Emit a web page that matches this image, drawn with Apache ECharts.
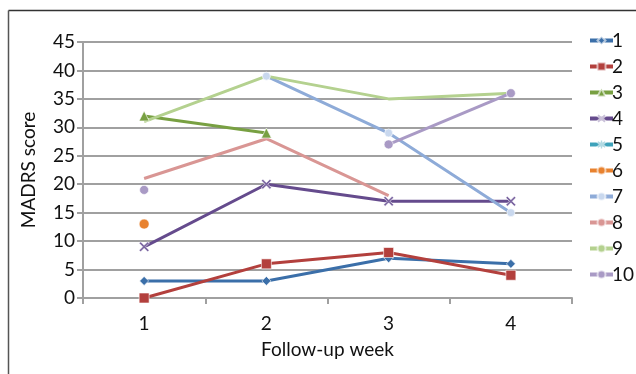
<!DOCTYPE html>
<html>
<head>
<meta charset="utf-8">
<script src="https://cdn.jsdelivr.net/npm/echarts@6/dist/echarts.min.js"></script>
<style>
  html, body { margin: 0; padding: 0; background: #fff; }
  #chart { width: 636px; height: 374px; }
</style>
</head>
<body>
<div id="chart"></div>
<script>
// Follow-up weeks on the category axis
const weeks = ['1', '2', '3', '4'];
const yTicks = [0, 5, 10, 15, 20, 25, 30, 35, 40, 45];

// MADRS score per patient (null = no visit that week)
const patientNames = ['1', '2', '3', '4', '5', '6', '7', '8', '9', '10'];
const p1 = [3, 3, 7, 6];
const p2 = [0, 6, 8, 4];
const p3 = [32, 29, null, null];
const p4 = [9, 20, 17, 17];
const p5 = [null, null, null, null];
const p6 = [13, null, null, null];
const p7 = [null, 39, 29, 15];
const p8 = [21, 28, 18, null];
const p9 = [31, 39, 35, 36];
const p10 = [19, null, 27, 36];
const patientScores = [p1, p2, p3, p4, p5, p6, p7, p8, p9, p10];

const colors = ['#3b6fa9', '#b3403d', '#78a042', '#654b8d', '#3ea2ba',
                '#e8822f', '#8eabd8', '#d99694', '#b4d18f', '#a99ac5'];
const markerFill = ['#3b6fa9', '#b3403d', '#78a042', '#7a64a0', '#3ea2ba',
                    '#e8822f', '#c9d8ee', '#d99694', '#b4d18f', '#a99ac5'];

const xMark = 'path://M0,1.5L1.5,0L5,3.5L8.5,0L10,1.5L6.5,5L10,8.5L8.5,10L5,6.5L1.5,10L0,8.5L3.5,5Z';
const starMark = 'path://M4.2,0L5.8,0L5.8,3.5L8.5,0.8L9.6,1.9L6.5,5L9.6,8.1L8.5,9.2L5.8,6.5L5.8,10L4.2,10L4.2,6.5L1.5,9.2L0.4,8.1L3.5,5L0.4,1.9L1.5,0.8L4.2,3.5Z';
const symbols = ['diamond', 'rect', 'triangle', xMark, starMark, 'circle', 'circle', 'none', 'none', 'circle'];
const sizes = [9, 10, 10, 10, 9, 10, 8, 0, 0, 9];

const font = 'Lato, "Open Sans", sans-serif';

const series = patientNames.map((name, i) => ({
  name: name,
  type: 'line',
  data: patientScores[i],
  connectNulls: false,
  symbol: symbols[i],
  symbolSize: sizes[i],
  showAllSymbol: true,
  lineStyle: { color: colors[i], width: 3 },
  itemStyle: { color: markerFill[i], borderColor: 'rgba(255,255,255,0.6)', borderWidth: 1 },
  emphasis: { disabled: true },
  animation: false
}));

const chart = echarts.init(document.getElementById('chart'), null, { renderer: 'canvas' });
chart.setOption({
  animation: false,
  color: colors,
  graphic: [
    { type: 'line', shape: { x1: 8.5, y1: 10.5, x2: 636, y2: 10.5 }, style: { stroke: '#333', lineWidth: 1.5 } },
    { type: 'line', shape: { x1: 8.5, y1: 10.5, x2: 8.5, y2: 374 }, style: { stroke: '#555', lineWidth: 1.5 } }
  ],
  grid: { left: 83, right: 64, top: 42, bottom: 76, containLabel: false },
  legend: {
    orient: 'vertical',
    left: 583,
    top: 26,
    itemGap: 7,
    itemWidth: 23,
    itemHeight: 10,
    lineStyle: { width: 4 },
    textStyle: { fontFamily: font, fontSize: 19, color: '#111', padding: [0, 0, 0, -6] },
    data: patientNames
  },
  xAxis: {
    type: 'category',
    data: weeks,
    boundaryGap: true,
    name: 'Follow-up week',
    nameLocation: 'middle',
    nameGap: 42,
    nameTextStyle: { fontFamily: font, fontSize: 19, color: '#111' },
    axisLine: { lineStyle: { color: '#a0a0a0', width: 2 } },
    axisTick: { show: true, alignWithLabel: false, length: 6, lineStyle: { color: '#a0a0a0', width: 2 } },
    axisLabel: { fontFamily: font, fontSize: 19, color: '#111', margin: 16 }
  },
  yAxis: {
    type: 'value',
    min: 0,
    max: 45,
    interval: 5,
    name: 'MADRS score',
    nameLocation: 'middle',
    nameGap: 45,
    nameRotate: 90,
    nameTextStyle: { fontFamily: font, fontSize: 19, color: '#111' },
    axisLine: { show: true, lineStyle: { color: '#a0a0a0', width: 2 } },
    axisTick: { show: true, length: 6, lineStyle: { color: '#a0a0a0', width: 2 } },
    axisLabel: {
      fontFamily: font, fontSize: 19, color: '#111', margin: 8,
      formatter: v => (yTicks.indexOf(v) >= 0 ? String(v) : '')
    },
    splitLine: { lineStyle: { color: '#a0a0a0', width: 2 } }
  },
  series: series
});
</script>
</body>
</html>
